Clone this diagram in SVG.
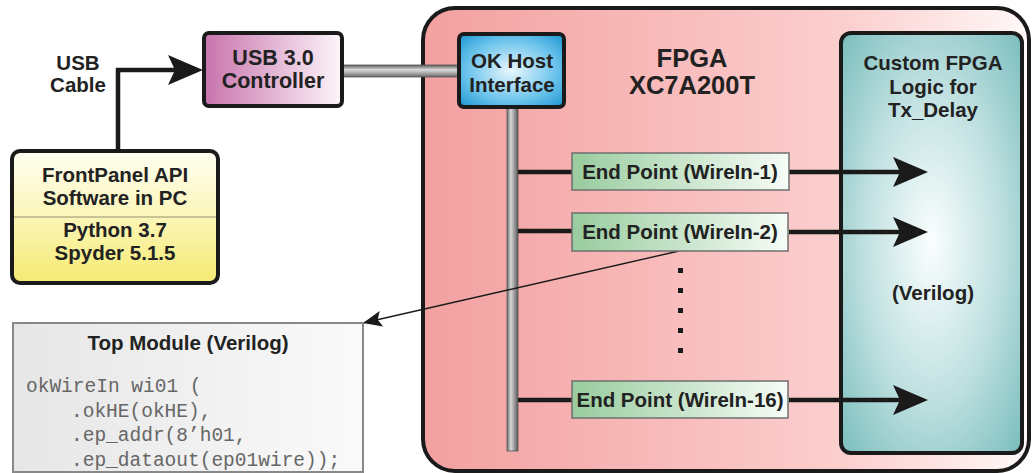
<svg xmlns="http://www.w3.org/2000/svg" width="1032" height="473" viewBox="0 0 1032 473">
<defs>
<linearGradient id="gFpga" x1="0" y1="0" x2="1" y2="0"><stop offset="0" stop-color="#f3a0a0"/><stop offset="0.7" stop-color="#fccfcf"/><stop offset="1" stop-color="#fff8f8"/></linearGradient>
<radialGradient id="gCustom" cx="0.5" cy="0.5" r="0.75" fx="0.5" fy="0.5"><stop offset="0" stop-color="#fbfefe"/><stop offset="0.5" stop-color="#bfe0e0"/><stop offset="1" stop-color="#70b8b8"/></radialGradient>
<radialGradient id="gOk" cx="0.5" cy="0.5" r="0.7"><stop offset="0" stop-color="#eaf7fd"/><stop offset="0.6" stop-color="#6cc4ec"/><stop offset="1" stop-color="#1a94d0"/></radialGradient>
<linearGradient id="gUsb" x1="0" y1="0" x2="1" y2="0"><stop offset="0" stop-color="#c774ac"/><stop offset="1" stop-color="#fdf6fb"/></linearGradient>
<linearGradient id="gFp" x1="0" y1="0" x2="0" y2="1"><stop offset="0" stop-color="#fffef2"/><stop offset="0.5" stop-color="#fbf6b8"/><stop offset="1" stop-color="#f5ea72"/></linearGradient>
<linearGradient id="gTop" x1="0" y1="0" x2="1" y2="0"><stop offset="0" stop-color="#e6e6e6"/><stop offset="1" stop-color="#fafafa"/></linearGradient>
<linearGradient id="gEp" x1="0" y1="0" x2="1" y2="0"><stop offset="0" stop-color="#98cc9e"/><stop offset="1" stop-color="#f7fcf7"/></linearGradient>
<linearGradient id="gBarH" x1="0" y1="0" x2="0" y2="1"><stop offset="0" stop-color="#5a5a5a"/><stop offset="0.4" stop-color="#dcdcdc"/><stop offset="1" stop-color="#6a6a6a"/></linearGradient>
<linearGradient id="gBarV" x1="0" y1="0" x2="1" y2="0"><stop offset="0" stop-color="#6a6a6a"/><stop offset="0.35" stop-color="#d8d8d8"/><stop offset="1" stop-color="#5a5a5a"/></linearGradient>
<marker id="bigArrow" markerUnits="userSpaceOnUse" viewBox="0 0 36 30" refX="8" refY="15" markerWidth="36" markerHeight="30" orient="auto"><path d="M0,0 L35,15 L0,30 L7,15 Z" fill="#1a1a1a"/></marker>
<marker id="smallArrow" markerUnits="userSpaceOnUse" viewBox="0 0 20 16" refX="19" refY="8" markerWidth="20" markerHeight="16" orient="auto"><path d="M0,0 L19,8 L0,16 L4,8 Z" fill="#1a1a1a"/></marker>
<style>
.b{font-family:"Liberation Sans",Arial,sans-serif;font-weight:bold;fill:#222;text-anchor:middle}
.code{font-family:"Liberation Mono","Courier New",monospace;font-size:19.5px;fill:#666}
.node{stroke:#1a1a1a;stroke-width:4}
.ep{stroke:#6f6f6f;stroke-width:1.5;fill:url(#gEp)}
.wire{stroke:#1a1a1a;stroke-width:4.5;fill:none}
</style>
</defs>

<g id="fpga">
<rect x="423" y="8" width="606" height="463" rx="32" fill="url(#gFpga)" class="node"/>
<text class="b" font-size="25.5" x="692" y="67">FPGA</text>
<text class="b" font-size="25.5" x="692" y="94">XC7A200T</text>
</g>

<g id="custom-logic">
<rect x="841" y="33" width="181" height="420" rx="10" fill="url(#gCustom)" class="node"/>
<text class="b" font-size="20.5" x="933" y="70">Custom FPGA</text>
<text class="b" font-size="20.5" x="933" y="94">Logic for</text>
<text class="b" font-size="20.5" x="933" y="117">Tx_Delay</text>
<text class="b" font-size="20.5" x="933" y="300">(Verilog)</text>
</g>

<g id="bus">
<rect x="342" y="65" width="117" height="12" fill="url(#gBarH)" stroke="#555" stroke-width="0.8"/>
<rect x="507" y="107" width="11" height="344" fill="url(#gBarV)" stroke="#555" stroke-width="0.8"/>
</g>

<g id="connectors">
<polyline class="wire" points="118,151 118,70 176,70" marker-end="url(#bigArrow)"/>
<line class="wire" x1="518" y1="172" x2="572" y2="172"/>
<line class="wire" x1="518" y1="231" x2="572" y2="231"/>
<line class="wire" x1="518" y1="400" x2="572" y2="400"/>
<line class="wire" x1="789" y1="172" x2="901" y2="172" marker-end="url(#bigArrow)"/>
<line class="wire" x1="789" y1="232" x2="901" y2="232" marker-end="url(#bigArrow)"/>
<line class="wire" x1="789" y1="400" x2="901" y2="400" marker-end="url(#bigArrow)"/>
<line x1="679" y1="251" x2="363" y2="323" stroke="#1a1a1a" stroke-width="1.4" marker-end="url(#smallArrow)"/>
<g fill="#1a1a1a">
<rect x="678" y="268" width="5" height="5"/>
<rect x="678" y="288" width="5" height="5"/>
<rect x="678" y="308" width="5" height="5"/>
<rect x="678" y="328" width="5" height="5"/>
<rect x="678" y="348" width="5" height="5"/>
</g>
</g>

<g id="usb-cable-label">
<text class="b" font-size="20.5" x="78" y="70">USB</text>
<text class="b" font-size="20.5" x="78" y="92">Cable</text>
</g>

<g id="usb-controller">
<rect x="204" y="33" width="138" height="73" rx="5" fill="url(#gUsb)" class="node"/>
<text class="b" font-size="21.5" x="273" y="65">USB 3.0</text>
<text class="b" font-size="21.5" x="273" y="88">Controller</text>
</g>

<g id="ok-host">
<rect x="459" y="34" width="105" height="73" rx="5" fill="url(#gOk)" class="node"/>
<text class="b" font-size="20.5" x="512" y="68">OK Host</text>
<text class="b" font-size="20.5" x="512" y="92">Interface</text>
</g>

<g id="ep1">
<rect class="ep" x="572" y="153" width="217" height="37"/>
<text class="b" font-size="20.5" x="680" y="179">End Point (WireIn-1)</text>
</g>
<g id="ep2">
<rect class="ep" x="572" y="213" width="216" height="38"/>
<text class="b" font-size="20.5" x="680" y="239">End Point (WireIn-2)</text>
</g>
<g id="ep16">
<rect class="ep" x="572" y="381" width="216" height="37"/>
<text class="b" font-size="20.5" x="680" y="407">End Point (WireIn-16)</text>
</g>

<g id="frontpanel">
<rect x="12" y="151" width="206" height="132" rx="8" fill="url(#gFp)" class="node"/>
<line x1="14" y1="217" x2="216" y2="217" stroke="#b8b08a" stroke-width="1.5"/>
<text class="b" font-size="20.5" x="115" y="182">FrontPanel API</text>
<text class="b" font-size="20.5" x="115" y="205">Software in PC</text>
<text class="b" font-size="20.5" x="115" y="237">Python 3.7</text>
<text class="b" font-size="20.5" x="115" y="260">Spyder 5.1.5</text>
</g>

<g id="top-module">
<rect x="13" y="323" width="350" height="149" fill="url(#gTop)" stroke="#888" stroke-width="2"/>
<text class="b" font-size="20.5" x="188" y="350">Top Module (Verilog)</text>
<text class="code" x="26" y="392">okWireIn wi01 (</text>
<text class="code" x="71" y="417">.okHE(okHE),</text>
<text class="code" x="71" y="441">.ep_addr(8’h01,</text>
<text class="code" x="71" y="466">.ep_dataout(ep01wire));</text>
</g>
</svg>
